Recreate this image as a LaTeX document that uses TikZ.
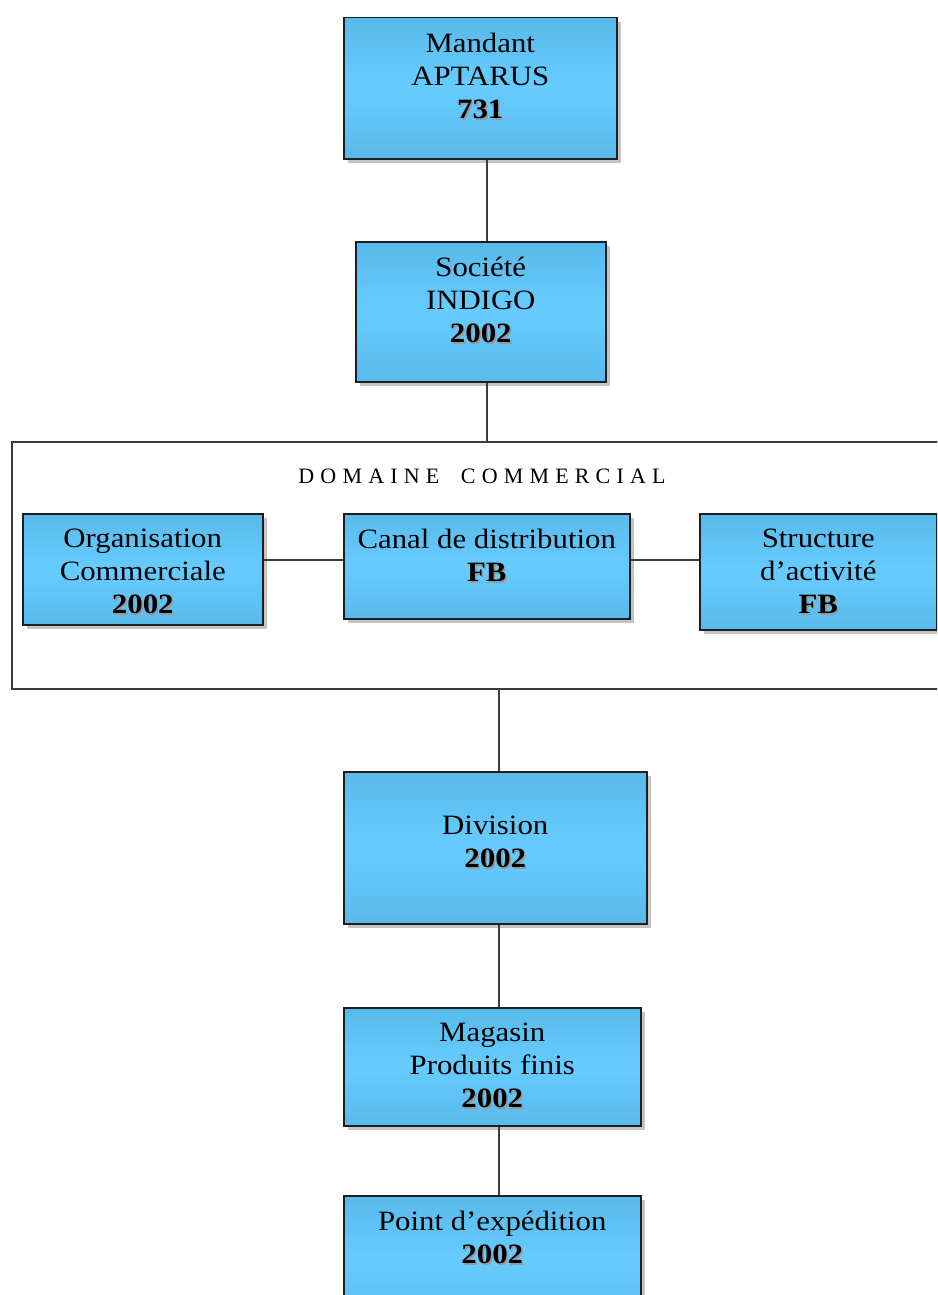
\documentclass[tikz,border=0pt]{standalone}
\usepackage{fontspec}
\setmainfont{Liberation Serif}[FakeStretch=1.1]
\newfontfamily\domfont{Liberation Serif}[LetterSpace=28]
\usepackage{tikz}
\usetikzlibrary{positioning,shadows}
\definecolor{ink}{HTML}{1E1E1E}
\definecolor{skyedge}{HTML}{58BAEA}
\definecolor{skymid}{HTML}{66CCFF}
\definecolor{frame}{HTML}{3C3C3C}
\definecolor{shade}{HTML}{C4C4C4}
\newcommand\yearnum[1]{\textbf{\rlap{\kern1.5pt\raisebox{-1.5pt}{\color{black!40}#1}}#1}}
\tikzset{
  unitbox/.style={draw=ink, line width=1.5pt, top color=skyedge, bottom color=skyedge, middle color=skymid, anchor=north west, inner sep=0pt, drop shadow={shadow xshift=4pt, shadow yshift=-4pt, fill=shade, opacity=1}},
  unittxt/.style={inner sep=0pt, align=center, font=\fontsize{28}{33}\selectfont, text=black},
  domainbox/.style={draw=frame, line width=1.6pt, fill=white, anchor=north west, inner sep=0pt},
  link/.style={draw=frame, line width=1.6pt},
}

\begin{document}
\begin{tikzpicture}[x=1pt,y=-1pt]
  \useasboundingbox (0,0) rectangle (937,1295);
  \clip (0,0) rectangle (937,1295);
  \fill[white] (0,0) rectangle (937,1295);
  % domaine commercial
  \node[domainbox,minimum width=950pt,minimum height=247pt](dom) at (11,441) {};
  \node[anchor=base,inner sep=0pt,font=\domfont\fontsize{22}{26}\selectfont](domT) at (482,483) {DOMAINE\ \hspace{10pt}COMMERCIAL};
  \node[unitbox,minimum width=240pt,minimum height=111pt](org) at (22,513) {};
  \node[unitbox,minimum width=286pt,minimum height=105pt](canal) at (343,513) {};
  \node[unitbox,minimum width=237pt,minimum height=116pt](struc) at (699,513) {};
  \node[unittxt,below=16pt of org.north](orgT){Organisation\\Commerciale\\\yearnum{2002}};
  \node[unittxt,below=16pt of canal.north](canalT){Canal de distribution\\\yearnum{FB}};
  \node[unittxt,below=16pt of struc.north](strucT){Structure\\d’activité\\\yearnum{FB}};
  \draw[link]([yshift=9pt]org.east) -- ([yshift=9pt]org.east -| canal.west);
  \draw[link]([yshift=6.5pt]canal.east) -- ([yshift=6.5pt]canal.east -| struc.west);
  % chain
  \node[unitbox,minimum width=273pt,minimum height=141pt](mand) at (343,17) {};
  \node[unitbox,minimum width=250pt,minimum height=140pt](soc) at (355,241) {};
  \node[unitbox,minimum width=303pt,minimum height=152pt](div) at (343,771) {};
  \node[unitbox,minimum width=297pt,minimum height=118pt](mag) at (343,1007) {};
  \node[unitbox,minimum width=297pt,minimum height=130pt](pt) at (343,1195) {};
  \node[unittxt,below=16pt of mand.north](mandT){Mandant\\APTARUS\\\yearnum{731}};
  \node[unittxt,below=16pt of soc.north](socT){Société\\INDIGO\\\yearnum{2002}};
  \node[unittxt,below=45pt of div.north](divT){Division\\\yearnum{2002}};
  \node[unittxt,below=16pt of mag.north](magT){Magasin\\Produits finis\\\yearnum{2002}};
  \node[unittxt,below=16pt of pt.north](ptT){Point d’expédition\\\yearnum{2002}};
  \draw[link](dom.north |- mand.south) -- (dom.north |- soc.north);
  \draw[link](dom.north |- soc.south) -- (dom.north);
  \draw[link]([xshift=3.5pt]div.north) -- ([xshift=3.5pt]div.north |- dom.south);
  \draw[link]([xshift=3.5pt]div.south) -- ([xshift=3.5pt]div.south |- mag.north);
  \draw[link]([xshift=6.5pt]mag.south) -- ([xshift=6.5pt]mag.south |- pt.north);
\end{tikzpicture}
\end{document}
